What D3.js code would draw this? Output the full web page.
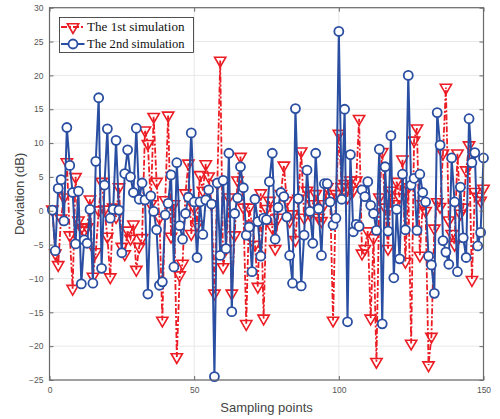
<!DOCTYPE html>
<html><head><meta charset="utf-8">
<script src="https://cdn.jsdelivr.net/npm/d3@7"></script>
<style>body{margin:0;background:#fff}svg{display:block}</style>
</head><body>
<script>
const seriesNames = ["The 1st simulation", "The 2nd simulation"];
const xTicks = [0, 50, 100, 150];
const yTicks = [-25, -20, -15, -10, -5, 0, 5, 10, 15, 20, 25, 30];
const sim1 = [0.2,-6.3,-8.0,-1.1,2.0,7.2,-3.6,-11.5,5.0,-1.4,-2.5,-2.9,-2.4,1.7,-9.7,-6.1,0.1,4.3,0.2,-3.8,
-9.8,0.5,-0.9,3.5,-5.3,-6.4,-2.9,-4.1,-2.0,-8.7,-5.3,-4.0,11.9,9.9,1.0,13.9,4.3,-1.0,-16.2,1.6,
14.1,-3.8,1.0,-21.6,-9.5,-7.8,2.6,7.0,-3.4,0.5,-2.0,5.3,3.0,6.9,5.1,1.0,-12.2,4.0,22.2,-8.3,
-5.6,2.0,-12.2,-3.6,4.5,8.0,0.5,-16.7,0.5,-2.0,-5.0,-11.2,2.6,-15.9,0.3,1.5,-2.5,-5.6,-1.0,2.5,
6.7,1.5,-1.5,-0.5,-4.3,1.8,8.8,-1.0,3.0,-0.5,1.0,2.5,-1.0,-1.5,1.0,3.5,2.0,-16.2,2.5,11.4,
3.5,4.0,2.0,4.5,3.0,4.5,13.6,-6.3,-5.6,-3.0,-15.9,-4.0,-22.3,2.0,8.7,0.5,-5.6,3.0,1.0,4.3,
2.0,7.6,-7.5,3.5,-19.6,10.4,12.2,-6.6,1.0,0.0,-22.8,-18.6,-2.6,1.3,0.6,8.5,18.2,-1.4,-3.4,-5.0,
8.5,-0.4,0.5,6.0,9.7,-10.2,2.8,2.1,1.5,3.3];
const sim2 = [0.1,-5.9,3.3,4.6,-1.5,12.3,6.7,2.7,-4.9,2.9,-10.8,-4.3,-4.8,0.2,-10.7,7.3,16.7,-8.5,3.8,12.1,
-1.1,0.2,10.4,0.1,-6.2,5.5,9.0,5.0,2.7,12.2,1.7,4.1,1.6,-12.3,2.2,-0.1,-2.8,-11.0,-10.5,-0.6,
1.1,5.3,-8.3,7.1,-2.2,-4.2,-0.4,2.0,11.5,1.3,-6.9,1.3,-3.5,1.6,3.1,1.0,-24.5,4.1,-6.6,4.5,
-5.6,8.5,-14.9,-0.4,1.9,6.5,3.4,-3.6,-2.4,-9.0,1.7,-1.6,-6.7,-1.1,-1.3,4.3,8.5,-4.2,0.5,2.7,
2.1,-0.9,-6.6,-10.7,15.1,1.8,-11.1,-3.6,6.0,-0.1,-4.8,8.5,0.3,-6.6,4.0,4.0,1.3,-2.1,-1.1,26.5,
1.7,15.0,-16.4,8.3,-3.1,-2.0,-2.3,3.1,2.1,4.3,0.8,-0.4,-2.9,9.1,-16.7,6.5,-3.0,11.1,-9.9,0.2,
-7.1,5.4,-2.8,20.0,3.8,4.8,-2.9,5.4,2.7,1.3,-6.7,-8.0,-12.2,14.5,9.7,-4.4,-6.1,-7.9,7.8,1.3,
-9.0,3.5,-4.0,-6.9,13.6,7.1,8.6,-5.2,-3.2,7.8];

const W = 500, H = 419;
const m = {l: 49.5, r: 16.5, t: 7.7, b: 39};
const svg = d3.select("body").append("svg").attr("width", W).attr("height", H);
const x = d3.scaleLinear().domain([0, 150]).range([m.l, W - m.r]);
const y = d3.scaleLinear().domain([-25, 30]).range([H - m.b, m.t]);
const axisCol = "#6a6a6a";
const red = "#ec1c24", blue = "#2a4ea2";
const dash = "6,2,2,2";

// grid
const g = svg.append("g");
g.selectAll(".gy").data(yTicks).join("line")
  .attr("x1", x(0)).attr("x2", x(150)).attr("y1", d => y(d)).attr("y2", d => y(d))
  .attr("stroke", "#e8e8e8").attr("stroke-width", 1);
g.selectAll(".gx").data(xTicks).join("line")
  .attr("y1", y(-25)).attr("y2", y(30)).attr("x1", d => x(d)).attr("x2", d => x(d))
  .attr("stroke", "#e8e8e8").attr("stroke-width", 1);

const pts1 = sim1.map((v, i) => [i + 1, v]);
const pts2 = sim2.map((v, i) => [i + 1, v]);
const line = d3.line().x(d => x(d[0])).y(d => y(d[1]));
const plot = svg.append("g");
plot.append("path").attr("d", line(pts1)).attr("fill", "none").attr("stroke", red)
  .attr("stroke-width", 1.8).attr("stroke-dasharray", dash);
const tri = d3.symbol().type(d3.symbolTriangle).size(55)();
plot.selectAll(".t").data(pts1).join("path").attr("d", tri)
  .attr("transform", d => `translate(${x(d[0])},${y(d[1])}) rotate(180)`)
  .attr("fill", "none").attr("stroke", red).attr("stroke-width", 1.6);

plot.append("path").attr("d", line(pts2)).attr("fill", "none").attr("stroke", blue)
  .attr("stroke-width", 2);
plot.selectAll(".c").data(pts2).join("circle")
  .attr("cx", d => x(d[0])).attr("cy", d => y(d[1])).attr("r", 4.5)
  .attr("fill", "#fff").attr("stroke", blue).attr("stroke-width", 1.8);

// axes box
svg.append("rect").attr("x", x(0)).attr("y", y(30)).attr("width", x(150) - x(0)).attr("height", y(-25) - y(30))
  .attr("fill", "none").attr("stroke", axisCol).attr("stroke-width", 1.2);
const xa = d3.axisBottom(x).tickValues(xTicks).tickSize(-4).tickPadding(7);
const ya = d3.axisLeft(y).tickValues(yTicks).tickSize(-4).tickPadding(6);
svg.append("g").attr("transform", `translate(0,${y(-25)})`).call(xa);
svg.append("g").attr("transform", `translate(${x(0)},0)`).call(ya);
svg.append("g").attr("transform", `translate(0,${y(30)})`).call(d3.axisTop(x).tickValues(xTicks).tickSize(-4).tickFormat(""));
svg.append("g").attr("transform", `translate(${x(150)},0)`).call(d3.axisRight(y).tickValues(yTicks).tickSize(-4).tickFormat(""));
svg.selectAll(".domain").remove();
svg.selectAll(".tick line").attr("stroke", axisCol);
svg.selectAll(".tick text").attr("fill", "#555").style("font-family", "Liberation Sans, Arial, sans-serif").style("font-size", "8.5px");

svg.append("text").attr("x", x(75)).attr("y", 412).attr("text-anchor", "middle")
  .attr("fill", "#444").style("font-family", "Liberation Sans, Arial, sans-serif").style("font-size", "13px")
  .text("Sampling points");
svg.append("text").attr("transform", `translate(24,${y(2.5)}) rotate(-90)`).attr("text-anchor", "middle")
  .attr("fill", "#444").style("font-family", "Liberation Sans, Arial, sans-serif").style("font-size", "13px")
  .text("Deviation (dB)");

// legend
const lg = svg.append("g");
lg.append("rect").attr("x", 59.5).attr("y", 17.5).attr("width", 134).attr("height", 35)
  .attr("fill", "#fff").attr("stroke", "#262626").attr("stroke-width", 0.8);
const ly = [27, 44];
lg.append("line").attr("x1", 61).attr("x2", 84.5).attr("y1", ly[0]).attr("y2", ly[0])
  .attr("stroke", red).attr("stroke-width", 1.8).attr("stroke-dasharray", dash);
lg.append("path").attr("d", tri).attr("transform", `translate(73,${ly[0]}) rotate(180)`)
  .attr("fill", "none").attr("stroke", red).attr("stroke-width", 1.6);
lg.append("line").attr("x1", 61).attr("x2", 84.5).attr("y1", ly[1]).attr("y2", ly[1])
  .attr("stroke", blue).attr("stroke-width", 2);
lg.append("circle").attr("cx", 73).attr("cy", ly[1]).attr("r", 4.5)
  .attr("fill", "#fff").attr("stroke", blue).attr("stroke-width", 1.8);
lg.selectAll(".lt").data(seriesNames).join("text")
  .attr("x", 87).attr("y", (d, i) => [30.5, 47.5][i])
  .attr("textLength", 97.5).attr("lengthAdjust", "spacingAndGlyphs")
  .attr("fill", "#111").style("font-family", "Liberation Serif, Times New Roman, serif").style("font-size", "13.5px")
  .text(d => d);
</script>
</body></html>
